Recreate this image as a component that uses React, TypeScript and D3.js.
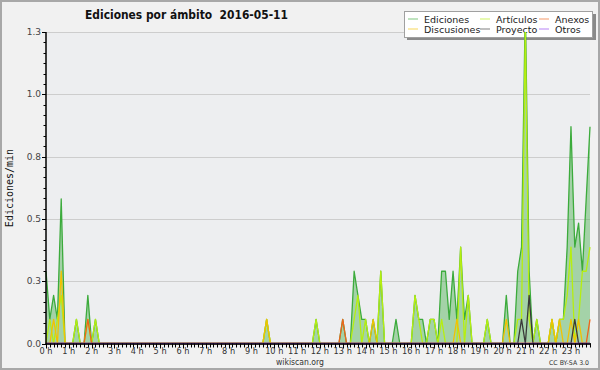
import React from "react";
import * as d3 from "d3";

// 10-minute bins, 144 per day (values in edits/min)
const ediciones = [
  0.29, 0.097, 0.193, 0.097, 0.58, 0, 0, 0, 0.097, 0, 0, 0.193,
  0, 0.097, 0, 0, 0, 0, 0, 0, 0, 0, 0, 0,
  0, 0, 0, 0, 0, 0, 0, 0, 0, 0, 0, 0,
  0, 0, 0, 0, 0, 0, 0, 0, 0, 0, 0, 0,
  0, 0, 0, 0, 0, 0, 0, 0, 0, 0, 0.097, 0,
  0, 0, 0, 0, 0, 0, 0, 0, 0, 0, 0, 0.097,
  0, 0, 0, 0, 0, 0, 0.097, 0, 0, 0.29, 0.193, 0.097,
  0.097, 0, 0.097, 0, 0.29, 0, 0, 0, 0.097, 0, 0, 0,
  0, 0.193, 0.097, 0.097, 0, 0.097, 0.097, 0, 0.29, 0.29, 0.097, 0.29,
  0.097, 0.387, 0.097, 0.193, 0, 0, 0, 0, 0.097, 0, 0, 0,
  0, 0.193, 0, 0, 0.29, 0.387, 1.36, 0.29, 0, 0.097, 0, 0,
  0, 0.097, 0, 0.097, 0.097, 0.387, 0.87, 0.387, 0.483, 0.29, 0.58, 0.87,
];
const articulos = [
  0, 0.097, 0, 0.097, 0.193, 0, 0, 0, 0.097, 0, 0, 0.097,
  0, 0.097, 0, 0, 0, 0, 0, 0, 0, 0, 0, 0,
  0, 0, 0, 0, 0, 0, 0, 0, 0, 0, 0, 0,
  0, 0, 0, 0, 0, 0, 0, 0, 0, 0, 0, 0,
  0, 0, 0, 0, 0, 0, 0, 0, 0, 0, 0.097, 0,
  0, 0, 0, 0, 0, 0, 0, 0, 0, 0, 0, 0.097,
  0, 0, 0, 0, 0, 0, 0, 0, 0, 0.097, 0.193, 0,
  0.097, 0, 0, 0, 0.29, 0, 0, 0, 0, 0, 0, 0,
  0, 0.193, 0.097, 0, 0, 0.097, 0.097, 0, 0.097, 0, 0, 0,
  0, 0.387, 0, 0.193, 0, 0, 0, 0, 0.097, 0, 0, 0,
  0, 0, 0, 0, 0.097, 0.097, 1.26, 0.097, 0, 0.097, 0, 0,
  0, 0.097, 0, 0.097, 0.097, 0.193, 0.387, 0, 0.097, 0.29, 0.29, 0.387,
];
const anexos = [
  0, 0, 0, 0, 0, 0, 0, 0, 0, 0, 0, 0.097,
  0, 0, 0, 0, 0, 0, 0, 0, 0, 0, 0, 0,
  0, 0, 0, 0, 0, 0, 0, 0, 0, 0, 0, 0,
  0, 0, 0, 0, 0, 0, 0, 0, 0, 0, 0, 0,
  0, 0, 0, 0, 0, 0, 0, 0, 0, 0, 0, 0,
  0, 0, 0, 0, 0, 0, 0, 0, 0, 0, 0, 0,
  0, 0, 0, 0, 0, 0, 0.097, 0, 0, 0, 0, 0,
  0, 0, 0, 0, 0, 0, 0, 0, 0, 0, 0, 0,
  0, 0, 0, 0, 0, 0, 0, 0, 0, 0, 0, 0,
  0, 0, 0, 0, 0, 0, 0, 0, 0, 0, 0, 0,
  0, 0, 0, 0, 0, 0, 0, 0, 0, 0, 0, 0,
  0, 0, 0, 0, 0, 0, 0, 0, 0, 0, 0, 0.097,
];
const discusiones = [
  0, 0, 0.097, 0, 0.29, 0, 0, 0, 0, 0, 0, 0,
  0, 0, 0, 0, 0, 0, 0, 0, 0, 0, 0, 0,
  0, 0, 0, 0, 0, 0, 0, 0, 0, 0, 0, 0,
  0, 0, 0, 0, 0, 0, 0, 0, 0, 0, 0, 0,
  0, 0, 0, 0, 0, 0, 0, 0, 0, 0, 0.097, 0,
  0, 0, 0, 0, 0, 0, 0, 0, 0, 0, 0, 0,
  0, 0, 0, 0, 0, 0, 0, 0, 0, 0, 0, 0,
  0, 0, 0.097, 0, 0, 0, 0, 0, 0, 0, 0, 0,
  0, 0, 0, 0, 0, 0, 0, 0, 0, 0, 0, 0,
  0.097, 0, 0, 0, 0, 0, 0, 0, 0, 0, 0, 0,
  0, 0.097, 0, 0, 0, 0, 0, 0, 0, 0, 0, 0,
  0, 0.097, 0, 0.097, 0, 0, 0.097, 0, 0.097, 0, 0, 0,
];
const proyecto = [
  0, 0, 0, 0, 0, 0, 0, 0, 0, 0, 0, 0,
  0, 0, 0, 0, 0, 0, 0, 0, 0, 0, 0, 0,
  0, 0, 0, 0, 0, 0, 0, 0, 0, 0, 0, 0,
  0, 0, 0, 0, 0, 0, 0, 0, 0, 0, 0, 0,
  0, 0, 0, 0, 0, 0, 0, 0, 0, 0, 0, 0,
  0, 0, 0, 0, 0, 0, 0, 0, 0, 0, 0, 0,
  0, 0, 0, 0, 0, 0, 0, 0, 0, 0, 0, 0,
  0, 0, 0, 0, 0, 0, 0, 0, 0, 0, 0, 0,
  0, 0, 0, 0, 0, 0, 0, 0, 0, 0, 0, 0,
  0, 0, 0, 0, 0, 0, 0, 0, 0, 0, 0, 0,
  0, 0, 0, 0, 0, 0.097, 0, 0.193, 0, 0, 0, 0,
  0, 0, 0, 0, 0, 0, 0, 0.097, 0, 0, 0, 0,
];
const otros = [
  0, 0, 0, 0, 0, 0, 0, 0, 0, 0, 0, 0,
  0, 0, 0, 0, 0, 0, 0, 0, 0, 0, 0, 0,
  0, 0, 0, 0, 0, 0, 0, 0, 0, 0, 0, 0,
  0, 0, 0, 0, 0, 0, 0, 0, 0, 0, 0, 0,
  0, 0, 0, 0, 0, 0, 0, 0, 0, 0, 0, 0,
  0, 0, 0, 0, 0, 0, 0, 0, 0, 0, 0, 0,
  0, 0, 0, 0, 0, 0, 0, 0, 0, 0, 0, 0,
  0, 0, 0, 0, 0, 0, 0, 0, 0, 0, 0, 0,
  0, 0, 0, 0, 0, 0, 0, 0, 0, 0, 0, 0,
  0, 0, 0, 0, 0, 0, 0, 0, 0, 0, 0, 0,
  0, 0, 0, 0, 0, 0, 0, 0, 0, 0, 0, 0,
  0, 0, 0, 0, 0, 0, 0, 0, 0, 0, 0, 0,
];

const hourLabels = [
  "0 h", "1 h", "2 h", "3 h", "4 h", "5 h", "6 h", "7 h", "8 h", "9 h", "10 h", "11 h",
  "12 h", "13 h", "14 h", "15 h", "16 h", "17 h", "18 h", "19 h", "20 h", "21 h", "22 h", "23 h",
];
const yTicks = [0, 0.25, 0.5, 0.75, 1.0, 1.25];
const yTickLabels = ["0.0", "0.3", "0.5", "0.8", "1.0", "1.3"];

const seriesNames = ["Ediciones", "Artículos", "Anexos", "Discusiones", "Proyecto", "Otros"];
const seriesData = [ediciones, articulos, anexos, discusiones, proyecto, otros];
const seriesColors = ["#3cab3c", "#b6ee10", "#f0641a", "#f2c200", "#3a3a3a", "#9040f0"];

const W = 600;
const H = 370;
const L = 46, R = 590, T = 32, B = 343.5;

export default function App() {
  const n = ediciones.length;
  const x = d3.scaleLinear().domain([0, n - 1]).range([L, R]);
  const y = d3.scaleLinear().domain([0, 1.25]).range([B, T]);
  const line = d3.line<number>().x((_, i) => x(i)).y((d) => y(d));
  const area = d3.area<number>().x((_, i) => x(i)).y0(B).y1((d) => y(d));

  const minorY = d3.range(0, 31).map((k) => (k * 1.25) / 30);
  const font = "'DejaVu Sans', sans-serif";

  const legendCols = [408, 480, 539];
  const legendRows = [19, 29];

  return (
    <svg width={W} height={H} style={{ position: "absolute", left: 0, top: 0 }} xmlns="http://www.w3.org/2000/svg">
      <defs>
        <clipPath id="plotclip">
          <rect x={L - 1} y={T} width={R - L + 3} height={B - T + 1} />
        </clipPath>
      </defs>
      <rect x={0} y={0} width={W} height={H} fill="#f1f1f1" />
      <rect x={1} y={1} width={W - 2} height={H - 2} fill="none" stroke="#a8a8a8" strokeWidth={2} />
      <rect x={L} y={T} width={R - L} height={B - T} fill="#edeef0" />
      {yTicks.map((t) => (
        <line key={"g" + t} x1={L} x2={R} y1={Math.round(y(t)) + 0.5} y2={Math.round(y(t)) + 0.5} stroke="#cdcdcd" strokeWidth={1} />
      ))}

      {/* Title */}
      <text x={85} y={18.5} fontFamily={font} fontWeight="bold" fontSize={12.5} textLength={203} lengthAdjust="spacingAndGlyphs" fill="#111" style={{ whiteSpace: "pre" }}>
        {"Ediciones por ámbito  2016-05-11"}
      </text>

      {/* Legend */}
      <rect x={407} y={14} width={189} height={26} fill="#8a8a8a" />
      <rect x={404.5} y={11.5} width={188} height={26} fill="#ffffff" stroke="#a0a0a0" strokeWidth={1} />
      {seriesNames.map((name, k) => {
        const cx = legendCols[k % 3];
        const cy = legendRows[Math.floor(k / 3)];
        return (
          <g key={name}>
            <line x1={cx} x2={cx + 10} y1={cy} y2={cy} stroke={seriesColors[k]} strokeOpacity={0.65} strokeWidth={1} />
            <text x={cx + 16} y={cy + 3.5} fontFamily={font} fontSize={9.5} fill="#222">
              {name}
            </text>
          </g>
        );
      })}

      {/* Data */}
      <g clipPath="url(#plotclip)">
        <path d={area(ediciones) || ""} fill="#4caf50" fillOpacity={0.45} />
        {seriesData.map((s, k) => (
          <path key={seriesNames[k]} d={line(s) || ""} fill="none" stroke={seriesColors[k]} strokeWidth={1.3} strokeLinejoin="round" />
        ))}
      </g>

      {/* Y axis */}
      <line x1={L} x2={L} y1={T} y2={B + 0.5} stroke="#000" strokeWidth={1.5} />
      {minorY.map((t, k) => (
        <line key={"my" + k} x1={L - (k % 6 === 0 ? 4 : 2.5)} x2={L} y1={Math.round(y(t)) + 0.5} y2={Math.round(y(t)) + 0.5} stroke="#000" strokeWidth={1} />
      ))}
      {yTicks.map((t, k) => (
        <text key={"yl" + t} x={41} y={y(t) + 3} textAnchor="end" fontFamily={font} fontSize={9} fill="#444">
          {yTickLabels[k]}
        </text>
      ))}
      <text
        transform={`translate(12.5,188) rotate(-90)`}
        textAnchor="middle"
        fontFamily="'DejaVu Sans Mono', monospace"
        fontSize={10}
        fill="#111"
      >
        Ediciones/min
      </text>

      {/* X axis */}
      <line x1={L - 0.5} x2={R + 1} y1={B + 0.5} y2={B + 0.5} stroke="#000" strokeWidth={1.6} />
      {d3.range(n).map((i) => (
        <line key={"mx" + i} x1={Math.round(x(i)) + 0.5} x2={Math.round(x(i)) + 0.5} y1={B} y2={B + (i % 6 === 0 ? 5 : 4)} stroke="#000" strokeWidth={1} />
      ))}
      {hourLabels.map((lab, h) => (
        <text key={lab} x={x(h * 6)} y={353.5} textAnchor="middle" fontFamily={font} fontSize={8.2} fill="#333">
          {lab}
        </text>
      ))}

      <text x={300} y={364.5} textAnchor="middle" fontFamily={font} fontSize={8.5} textLength={48} lengthAdjust="spacingAndGlyphs" fill="#333">
        wikiscan.org
      </text>
      <text x={589} y={365} textAnchor="end" fontFamily={font} fontSize={6.5} textLength={40} lengthAdjust="spacingAndGlyphs" fill="#333">
        CC BY-SA 3.0
      </text>
    </svg>
  );
}
